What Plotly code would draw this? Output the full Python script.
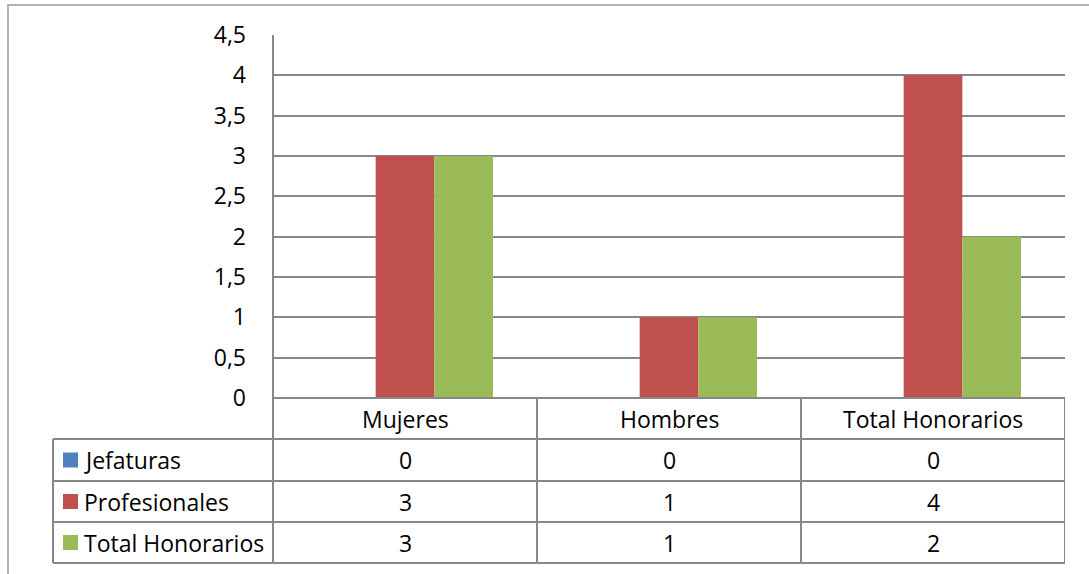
import plotly.graph_objects as go

categories = ["Mujeres", "Hombres", "Total Honorarios"]
series_names = ["Jefaturas", "Profesionales", "Total Honorarios"]
jefaturas = [0, 0, 0]
profesionales = [3, 1, 4]
total_honorarios = [3, 1, 2]
series_values = [jefaturas, profesionales, total_honorarios]
colors = ["#4F81BD", "#C0504D", "#9BBB59"]
y_ticks = [0, 0.5, 1, 1.5, 2, 2.5, 3, 3.5, 4, 4.5]

W, H = 1089, 574
L, R, T, B = 273, 1065, 35, 398  # plot area in pixels
FONT = "Open Sans"
FS = 23
GRID = "#888888"


def px(xp):
    return (xp - L) / (R - L)


def py(yp):
    return (B - yp) / (B - T)


fig = go.Figure()
for name, vals, c in zip(series_names, series_values, colors):
    fig.add_trace(go.Bar(x=categories, y=vals, name=name, marker=dict(color=c, line=dict(width=0)),
                         showlegend=False, hoverinfo="skip"))

shapes = []
ann = []
line = dict(color=GRID, width=2)

# table row boundaries (pixels)
row_edges = [B, 439, 481, 522, 563]
table_left = 53

# horizontal lines
shapes.append(dict(type="line", xref="paper", yref="paper", x0=0, x1=1, y0=py(row_edges[0]), y1=py(row_edges[0]), line=line))
for ye in row_edges[1:]:
    shapes.append(dict(type="line", xref="paper", yref="paper", x0=px(table_left), x1=1, y0=py(ye), y1=py(ye), line=line))
# vertical lines
shapes.append(dict(type="line", xref="paper", yref="paper", x0=px(table_left), x1=px(table_left),
                   y0=py(row_edges[1]), y1=py(row_edges[-1]), line=line))
shapes.append(dict(type="line", xref="paper", yref="paper", x0=0, x1=0, y0=1, y1=py(row_edges[-1]), line=line))
for i in range(len(categories)):
    xb = i + 0.5
    shapes.append(dict(type="line", xref="x", yref="paper", x0=xb, x1=xb,
                       y0=py(row_edges[0]), y1=py(row_edges[-1]), line=line))

# outer chart border
shapes.append(dict(type="rect", xref="paper", yref="paper", x0=px(8), x1=px(1200), y0=py(5), y1=py(700),
                   line=dict(color="#9A9A9A", width=1.5), layer="below"))

# header labels
hy = (row_edges[0] + row_edges[1]) / 2
for c in categories:
    ann.append(dict(x=c, y=py(hy), xref="x", yref="paper", text=c, showarrow=False,
                    font=dict(family=FONT, size=FS, color="#000"), xanchor="center", yanchor="middle"))

# rows
for r, (name, vals, col) in enumerate(zip(series_names, series_values, colors)):
    yc = (row_edges[r + 1] + row_edges[r + 2]) / 2
    shapes.append(dict(type="rect", xref="paper", yref="paper", x0=px(63), x1=px(78),
                       y0=py(yc - 7.5), y1=py(yc + 7.5), fillcolor=col, line=dict(width=0)))
    ann.append(dict(x=px(82), y=py(yc), xref="paper", yref="paper", text=name, showarrow=False,
                    font=dict(family=FONT, size=FS, color="#000"), xanchor="left", yanchor="middle"))
    for c, v in zip(categories, vals):
        ann.append(dict(x=c, y=py(yc), xref="x", yref="paper", text=str(v), showarrow=False,
                        font=dict(family=FONT, size=FS, color="#000"), xanchor="center", yanchor="middle"))

fig.update_layout(
    width=W, height=H,
    margin=dict(l=L, r=W - R, t=T, b=H - B, pad=0),
    paper_bgcolor="white", plot_bgcolor="white",
    barmode="group", bargap=1.5 / 4.5, bargroupgap=0,
    separators=",.",
    shapes=shapes, annotations=ann,
    xaxis=dict(type="category", range=[-0.5, 2.5], showticklabels=False, showgrid=False,
               zeroline=False, showline=False, ticks="", fixedrange=True),
    yaxis=dict(range=[0, 4.5], tickvals=y_ticks, showgrid=True, gridcolor=GRID, gridwidth=1.5,
               zeroline=False, showline=False, ticks="", ticklabelstandoff=26, fixedrange=True,
               tickfont=dict(family=FONT, size=FS, color="#000")),
    font=dict(family=FONT, size=FS, color="#000"),
)

fig.write_html("out.html", config={"displayModeBar": False},
               post_script="document.body.style.margin='0px';document.body.style.overflow='hidden';")
